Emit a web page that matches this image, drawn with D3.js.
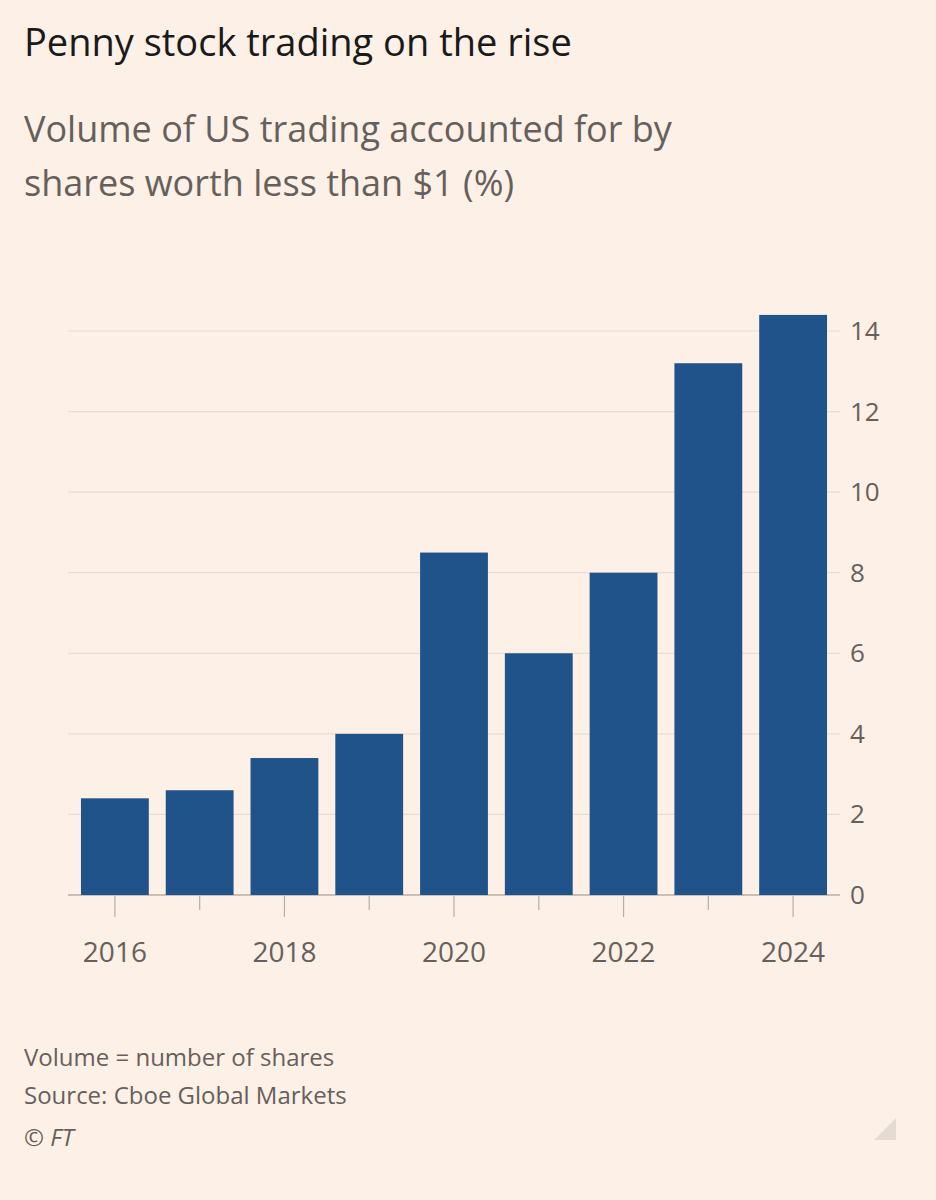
<!DOCTYPE html>
<html><head><meta charset="utf-8">
<script src="https://cdn.jsdelivr.net/npm/d3@7"></script>
<style>body{margin:0;background:#fdf0e6;font-family:"Open Sans",sans-serif;}</style>
</head><body><svg id="c" width="936" height="1200"></svg>
<script>
const years = ["2016","2017","2018","2019","2020","2021","2022","2023","2024"];
const values = [2.4, 2.6, 3.4, 4.0, 8.5, 6.0, 8.0, 13.2, 14.4];
const yTicks = [0,2,4,6,8,10,12,14];
const xLabels = ["2016","2018","2020","2022","2024"];

const svg = d3.select("#c");
svg.append("rect").attr("width",936).attr("height",1200).attr("fill","#fdf0e6");
const txt = (x,y,s,size,fill,extra)=>{const t=svg.append("text").attr("x",x).attr("y",y).attr("font-size",size).attr("fill",fill).text(s);if(extra)extra(t);return t;};
txt(24,56,"Penny stock trading on the rise",38,"#1a1a1a");
txt(24,142,"Volume of US trading accounted for by",36,"#66605c");
txt(24,196,"shares worth less than $1 (%)",36,"#66605c");

const x = d3.scaleBand().domain(years).range([72.5,835.5]).paddingInner(0.2).paddingOuter(0.1);
const y = d3.scaleLinear().domain([0,14]).range([895,331]);

const g = svg.append("g");
g.selectAll(".grid").data(yTicks).join("line")
 .attr("x1",68).attr("x2",840).attr("y1",d=>y(d)).attr("y2",d=>y(d))
 .attr("stroke",d=>d===0?"#b8aea6":"#e8ddd3").attr("stroke-width",d=>d===0?1.5:1.2);
g.selectAll(".ylab").data(yTicks).join("text")
 .attr("x",850).attr("y",d=>y(d)+9).attr("font-size",26).attr("fill","#66605c").text(d=>d);
g.selectAll(".bar").data(values).join("rect")
 .attr("x",(d,i)=>x(years[i])).attr("width",x.bandwidth())
 .attr("y",d=>y(d)).attr("height",d=>y(0)-y(d)).attr("fill","#1f5389");
g.selectAll(".tick").data(years).join("line")
 .attr("x1",d=>x(d)+x.bandwidth()/2).attr("x2",d=>x(d)+x.bandwidth()/2)
 .attr("y1",896).attr("y2",d=>xLabels.includes(d)?917:910)
 .attr("stroke","#b8aea6").attr("stroke-width",1.2);
g.selectAll(".xlab").data(xLabels).join("text")
 .attr("x",d=>x(d)+x.bandwidth()/2).attr("y",962).attr("text-anchor","middle")
 .attr("font-size",28).attr("fill","#66605c").text(d=>d);

txt(24,1066,"Volume = number of shares",24,"#66605c");
txt(24,1104,"Source: Cboe Global Markets",24,"#66605c");
txt(24,1146,"© FT",24,"#66605c",t=>t.attr("font-style","italic"));
svg.append("path").attr("d","M896,1118 L896,1140 L874,1140 Z").attr("fill","#e6dbd2");
</script></body></html>
